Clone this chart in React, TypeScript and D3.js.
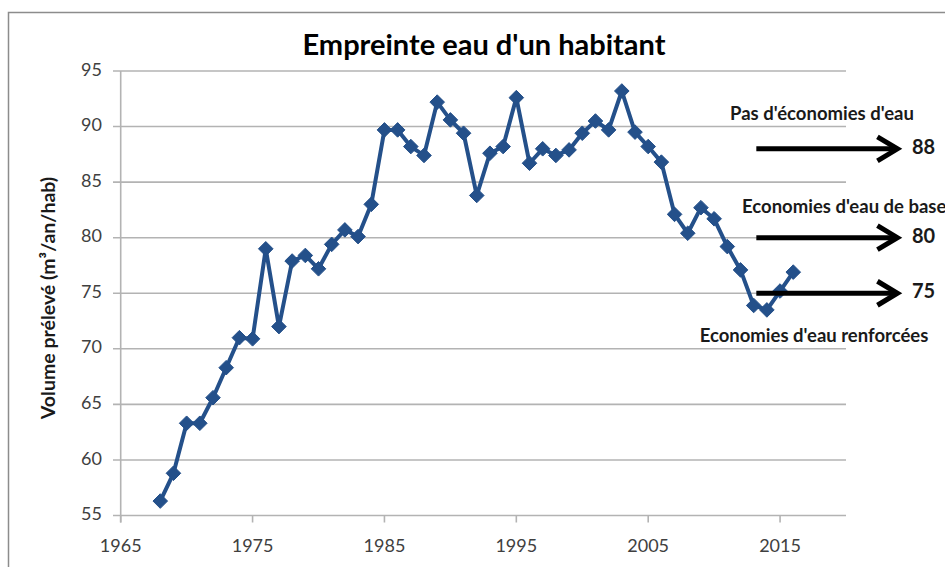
import React from "react";
import * as d3 from "d3";

const years: number[] = [
  1968, 1969, 1970, 1971, 1972, 1973, 1974, 1975, 1976, 1977, 1978, 1979, 1980,
  1981, 1982, 1983, 1984, 1985, 1986, 1987, 1988, 1989, 1990, 1991, 1992, 1993,
  1994, 1995, 1996, 1997, 1998, 1999, 2000, 2001, 2002, 2003, 2004, 2005, 2006,
  2007, 2008, 2009, 2010, 2011, 2012, 2013, 2014, 2015, 2016,
];
const volumes: number[] = [
  56.3, 58.8, 63.3, 63.3, 65.6, 68.3, 71.0, 70.9, 79.0, 72.0, 77.9, 78.4, 77.2,
  79.4, 80.7, 80.1, 83.0, 89.7, 89.7, 88.2, 87.4, 92.2, 90.6, 89.4, 83.8, 87.6,
  88.2, 92.6, 86.7, 88.0, 87.4, 87.9, 89.4, 90.5, 89.7, 93.2, 89.5, 88.2, 86.8,
  82.1, 80.4, 82.7, 81.7, 79.2, 77.1, 73.9, 73.5, 75.2, 76.9,
];
const yTicks: number[] = [55, 60, 65, 70, 75, 80, 85, 90, 95];
const xTicks: number[] = [1965, 1975, 1985, 1995, 2005, 2015];
const scenarioNames: string[] = [
  "Pas d'économies d'eau",
  "Economies d'eau de base",
  "Economies d'eau renforcées",
];
const scenarioValues: number[] = [88, 80, 75];

const title = "Empreinte eau d'un habitant";
const yTitle = "Volume prélevé (m³/an/hab)";

export default function App() {
  const W = 945;
  const H = 567;
  const x = d3.scaleLinear().domain([1965, 2020]).range([120.7, 846]);
  const y = d3.scaleLinear().domain([55, 95]).range([515.5, 71]);
  const pts = years.map((yr, i) => [x(yr), y(volumes[i])] as [number, number]);
  const line = d3.line<[number, number]>()(pts) || "";
  const r = 7.3;
  const blue = "#24508A";
  const grid = "#b3b3b3";
  const font = "Lato, 'Open Sans', sans-serif";
  const arrowX0 = x(2013.2);
  const arrowX1 = x(2023.9);
  const textPos = [
    { x: 822, y: 115, anchor: "middle" },
    { x: 742, y: 208, anchor: "start" },
    { x: 814, y: 337, anchor: "middle" },
  ];
  return (
    <svg
      width={W}
      height={H}
      style={{ position: "absolute", left: 0, top: 0, background: "#fff" }}
      fontFamily={font}
    >
      <rect x={0} y={0} width={W} height={H} fill="#fff" />
      {/* outer frame */}
      <path d={`M8.5,${H} L8.5,12.5 L${W},12.5`} fill="none" stroke="#8c8c8c" strokeWidth={1.5} />
      {/* title */}
      <text x={484} y={48} textAnchor="middle" dominantBaseline="middle" fontSize={29} fontWeight="bold" fill="#000">
        {title}
      </text>
      {/* gridlines */}
      {yTicks.map((t) => (
        <g key={t}>
          <line x1={113} x2={846} y1={y(t)} y2={y(t)} stroke={grid} strokeWidth={1.6} />
          <text x={102} y={y(t)} textAnchor="end" dominantBaseline="middle" fontSize={18} fill="#404040">
            {t}
          </text>
        </g>
      ))}
      {/* y axis line */}
      <line x1={x(1965)} x2={x(1965)} y1={y(95)} y2={y(55) + 7} stroke={grid} strokeWidth={1.6} />
      {/* x ticks */}
      {xTicks.map((t) => (
        <g key={t}>
          <line x1={x(t)} x2={x(t)} y1={y(55)} y2={y(55) + 7} stroke={grid} strokeWidth={1.6} />
          <text x={x(t)} y={547} textAnchor="middle" dominantBaseline="middle" fontSize={18} fill="#404040">
            {t}
          </text>
        </g>
      ))}
      {/* y title */}
      <text
        transform={`translate(50,298) rotate(-90)`}
        textAnchor="middle"
        dominantBaseline="middle"
        fontSize={19.5}
        fontWeight="bold"
        fill="#1a1a1a"
      >
        {yTitle}
      </text>
      {/* series */}
      <path d={line} fill="none" stroke={blue} strokeWidth={4} strokeLinejoin="round" />
      {pts.map(([px, py], i) => (
        <path
          key={i}
          d={`M${px},${py - r} L${px + r},${py} L${px},${py + r} L${px - r},${py} Z`}
          fill={blue}
          stroke={blue}
          strokeWidth={1}
        />
      ))}
      {/* scenario arrows */}
      {scenarioValues.map((v, i) => {
        const ay = y(v);
        return (
          <g key={v}>
            <line x1={arrowX0} x2={arrowX1 - 4} y1={ay} y2={ay} stroke="#000" strokeWidth={5} />
            <path
              d={`M${arrowX1 - 20},${ay - 12} L${arrowX1},${ay} L${arrowX1 - 20},${ay + 12}`}
              fill="none"
              stroke="#000"
              strokeWidth={5}
              strokeLinejoin="miter"
            />
            <text x={912} y={ay} dominantBaseline="middle" fontSize={20} fontWeight="bold" fill="#1a1a1a">
              {v}
            </text>
            <text
              x={textPos[i].x}
              y={textPos[i].y}
              textAnchor={textPos[i].anchor as any}
              dominantBaseline="middle"
              fontSize={18.5}
              fontWeight="bold"
              fill="#1a1a1a"
            >
              {scenarioNames[i]}
            </text>
          </g>
        );
      })}
    </svg>
  );
}
